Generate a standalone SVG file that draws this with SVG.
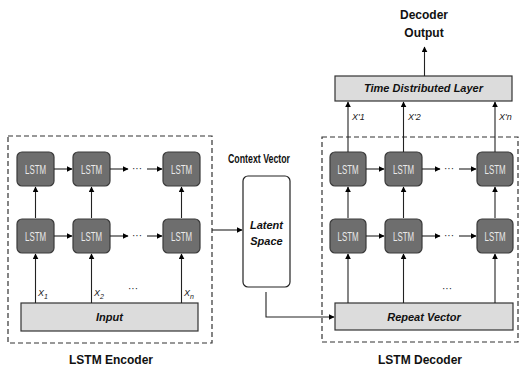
<svg xmlns="http://www.w3.org/2000/svg" width="522" height="371" viewBox="0 0 522 371">
<defs>
<marker id="ah" viewBox="0 0 10 10" refX="9" refY="5" markerWidth="6" markerHeight="6" orient="auto" markerUnits="userSpaceOnUse"><path d="M0,0 L10,5 L0,10 z" fill="#000"/></marker>
<style>
.bg{fill:#fff}
.dash{fill:none;stroke:#333;stroke-width:1.2;stroke-dasharray:5,3}
.lstm rect{fill:#6e6e6e;stroke:#3a3a3a;stroke-width:1.2}
.lstm text{font-family:"Liberation Sans",Arial,sans-serif;font-size:12.5px;fill:#eaeaea;text-anchor:middle}
.bar rect{fill:#dcdcdc;stroke:#333;stroke-width:1.2}
.bar text{font-family:"Liberation Sans",Arial,sans-serif;font-size:11px;font-weight:bold;font-style:italic;fill:#111;text-anchor:middle}
.it{font-family:"Liberation Sans",Arial,sans-serif;font-size:11px;font-weight:bold;font-style:italic;fill:#111;text-anchor:middle}
.ln{stroke:#222;stroke-width:1.1;fill:none}
.ar{stroke:#222;stroke-width:1.1;fill:none;marker-end:url(#ah)}
.lab{font-family:"Liberation Sans",Arial,sans-serif;font-size:12px;font-weight:bold;fill:#111;text-anchor:middle}
.small{font-family:"Liberation Sans",Arial,sans-serif;font-size:9px;font-style:italic;fill:#222}
.dots{font-family:"Liberation Sans",Arial,sans-serif;font-size:10px;fill:#222;text-anchor:middle}
</style>
</defs>
<rect class="bg" width="522" height="371"/>

<g id="encoder-frame"><rect class="dash" x="8" y="136" width="204" height="207"/></g>
<g id="decoder-frame"><rect class="dash" x="322" y="137" width="196" height="205"/></g>

<g id="enc-l1-1" class="lstm"><rect x="17" y="152" width="37" height="34" rx="5"/><text x="35.5" y="173.5" textLength="21" lengthAdjust="spacingAndGlyphs">LSTM</text></g>
<g id="enc-l1-2" class="lstm"><rect x="73" y="152" width="37" height="34" rx="5"/><text x="91.5" y="173.5" textLength="21" lengthAdjust="spacingAndGlyphs">LSTM</text></g>
<g id="enc-l1-n" class="lstm"><rect x="163" y="152" width="37" height="34" rx="5"/><text x="181.5" y="173.5" textLength="21" lengthAdjust="spacingAndGlyphs">LSTM</text></g>
<g id="enc-l0-1" class="lstm"><rect x="17" y="219" width="37" height="34" rx="5"/><text x="35.5" y="240.5" textLength="21" lengthAdjust="spacingAndGlyphs">LSTM</text></g>
<g id="enc-l0-2" class="lstm"><rect x="73" y="219" width="37" height="34" rx="5"/><text x="91.5" y="240.5" textLength="21" lengthAdjust="spacingAndGlyphs">LSTM</text></g>
<g id="enc-l0-n" class="lstm"><rect x="163" y="219" width="37" height="34" rx="5"/><text x="181.5" y="240.5" textLength="21" lengthAdjust="spacingAndGlyphs">LSTM</text></g>
<g id="input" class="bar"><rect x="21" y="303" width="177" height="28"/><text x="109.5" y="321">Input</text></g>

<g id="context"><text class="lab" x="259" y="163" textLength="62" lengthAdjust="spacingAndGlyphs">Context Vector</text></g>
<g id="latent"><rect x="243" y="176" width="47" height="111" rx="5" fill="#fff" stroke="#222" stroke-width="1.2"/>
<text class="it" x="266.5" y="229">Latent</text>
<text class="it" x="266.5" y="245">Space</text></g>

<g id="dec-l1-1" class="lstm"><rect x="330" y="152" width="36" height="34" rx="5"/><text x="348" y="173.5" textLength="21" lengthAdjust="spacingAndGlyphs">LSTM</text></g>
<g id="dec-l1-2" class="lstm"><rect x="385" y="152" width="37" height="34" rx="5"/><text x="403.5" y="173.5" textLength="21" lengthAdjust="spacingAndGlyphs">LSTM</text></g>
<g id="dec-l1-n" class="lstm"><rect x="477" y="152" width="36" height="34" rx="5"/><text x="495" y="173.5" textLength="21" lengthAdjust="spacingAndGlyphs">LSTM</text></g>
<g id="dec-l0-1" class="lstm"><rect x="330" y="219" width="36" height="34" rx="5"/><text x="348" y="240.5" textLength="21" lengthAdjust="spacingAndGlyphs">LSTM</text></g>
<g id="dec-l0-2" class="lstm"><rect x="385" y="219" width="37" height="34" rx="5"/><text x="403.5" y="240.5" textLength="21" lengthAdjust="spacingAndGlyphs">LSTM</text></g>
<g id="dec-l0-n" class="lstm"><rect x="477" y="219" width="36" height="34" rx="5"/><text x="495" y="240.5" textLength="21" lengthAdjust="spacingAndGlyphs">LSTM</text></g>
<g id="repeat" class="bar"><rect x="335" y="303" width="178" height="27"/><text x="424" y="321">Repeat Vector</text></g>
<g id="tdl" class="bar"><rect x="335" y="76" width="177" height="25"/><text x="423.5" y="92">Time Distributed Layer</text></g>
<g id="output"><text class="lab" x="424" y="19">Decoder</text><text class="lab" x="424" y="37">Output</text></g>

<g id="titles"><text class="lab" x="111" y="364">LSTM Encoder</text><text class="lab" x="420" y="364">LSTM Decoder</text></g>

<g id="connectors">
<path class="ar" d="M54,169 H72"/><path class="ar" d="M110,169 H128"/><path class="ar" d="M147,169 H162"/>
<path class="ar" d="M54,236 H72"/><path class="ar" d="M110,236 H128"/><path class="ar" d="M147,236 H162"/>
<path class="ar" d="M35.5,218 V187"/><path class="ar" d="M91.5,218 V187"/><path class="ar" d="M181.5,218 V187"/>
<path class="ar" d="M35.5,303 V254"/><path class="ar" d="M91.5,303 V254"/><path class="ar" d="M181.5,303 V254"/>
<path class="ar" d="M212,230 H242"/>
<path class="ar" d="M266,292 V317 H334"/>
<path class="ar" d="M366,169 H384"/><path class="ar" d="M422,169 H440"/><path class="ar" d="M459,169 H476"/>
<path class="ar" d="M366,236 H384"/><path class="ar" d="M422,236 H440"/><path class="ar" d="M459,236 H476"/>
<path class="ar" d="M348,218 V187"/><path class="ar" d="M403.5,218 V187"/><path class="ar" d="M495,218 V187"/>
<path class="ar" d="M348,303 V254"/><path class="ar" d="M403.5,303 V254"/><path class="ar" d="M495,303 V254"/>
<path class="ar" d="M348,152 V102"/><path class="ar" d="M403.5,152 V102"/><path class="ar" d="M495,152 V102"/>
<path class="ar" d="M424.5,76 V47"/>
</g>

<g id="labels">
<text class="dots" x="137" y="172">···</text><text class="dots" x="137" y="239">···</text>
<text class="dots" x="449" y="172">···</text><text class="dots" x="449" y="239">···</text>
<text class="dots" x="133" y="292">···</text><text class="dots" x="447" y="292">···</text>
<text class="small" x="38" y="296" font-size="10">X<tspan font-size="7" dy="3">1</tspan></text>
<text class="small" x="94" y="296" font-size="10">X<tspan font-size="7" dy="3">2</tspan></text>
<text class="small" x="184" y="296" font-size="10">X<tspan font-size="7" dy="3">n</tspan></text>
<text class="small" x="352" y="120" font-size="8">X'1</text>
<text class="small" x="408" y="120" font-size="8">X'2</text>
<text class="small" x="499" y="120" font-size="8">X'n</text>
</g>
</svg>
